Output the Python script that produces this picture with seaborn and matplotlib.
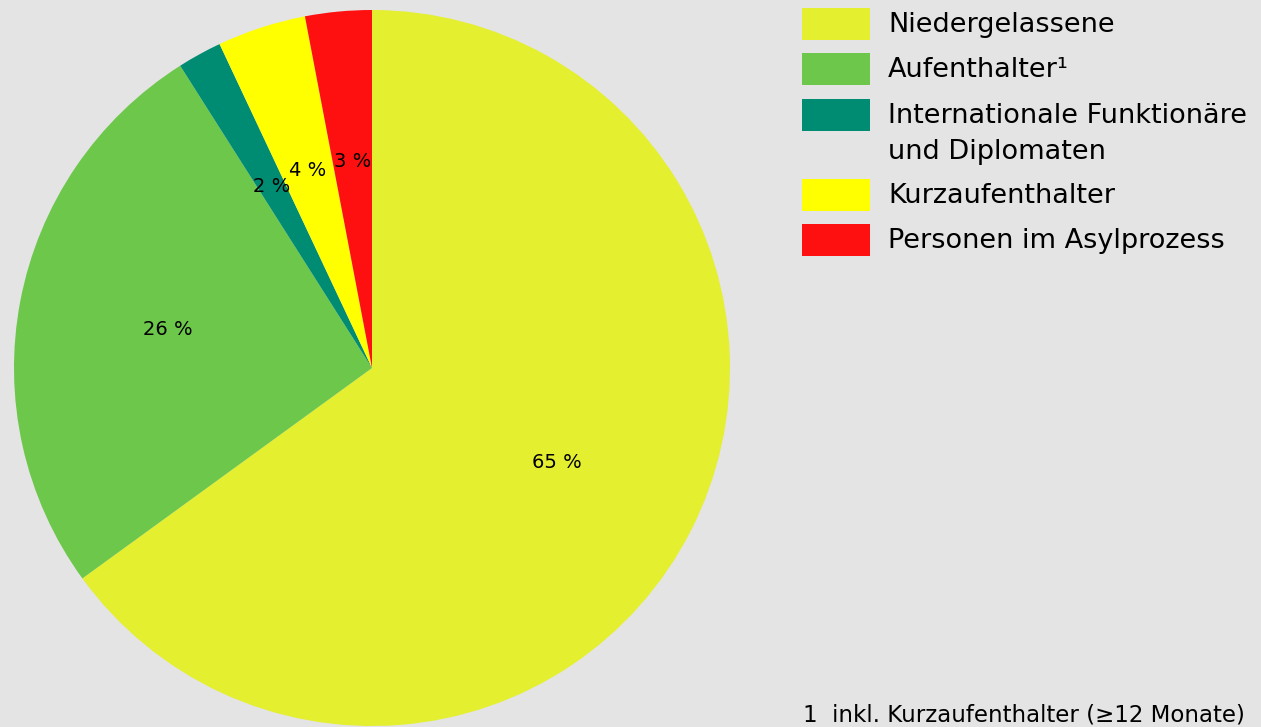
import matplotlib
matplotlib.use('Agg')
import matplotlib.pyplot as plt
import seaborn as sns
from matplotlib.patches import Rectangle

# Daten
categories = ['Niedergelassene', 'Aufenthalter¹', 'Internationale Funktionäre\nund Diplomaten',
              'Kurzaufenthalter', 'Personen im Asylprozess']
shares = [65, 26, 2, 4, 3]
colors = ['#E3EF2F', '#6CC74A', '#008C73', '#FFFF00', '#FF1010']
footnote = '1  inkl. Kurzaufenthalter (≥12 Monate)'

bg = '#E4E4E4'
sns.set_theme(style='white', rc={'figure.facecolor': bg, 'axes.facecolor': bg})
plt.rcParams['font.family'] = ['DejaVu Sans']

W, H = 1261, 727
fig = plt.figure(figsize=(W / 100, H / 100), dpi=100)

# Tortendiagramm: Mittelpunkt (372, 368) px, Radius 358 px
cx, cy, r = 372, 368, 358
ax = fig.add_axes([(cx - r) / W, (H - cy - r) / H, 2 * r / W, 2 * r / H])
ax.pie(shares, colors=colors, startangle=90, counterclock=False,
       autopct='%d %%', pctdistance=0.58,
       wedgeprops={'linewidth': 0},
       textprops={'fontsize': 14, 'color': 'black'})
ax.set_xlim(-1, 1)
ax.set_ylim(-1, 1)
ax.set_aspect('equal')
ax.axis('off')

# Legende
patch_tops = [8, 53, 99, 179, 224]
for top, col, lab in zip(patch_tops, colors, categories):
    fig.add_artist(Rectangle((802 / W, 1 - (top + 32) / H), 68 / W, 32 / H,
                             transform=fig.transFigure, facecolor=col, edgecolor='none'))
    for i, line in enumerate(lab.split('\n')):
        yc = top + 17 + i * 36
        fig.text(888 / W, 1 - yc / H, line, fontsize=19.5, va='center', ha='left', color='black')

fig.text(803 / W, 5 / H, footnote, fontsize=16.5, va='baseline', ha='left', color='black')

fig.savefig('out.png', dpi=100, facecolor=bg)
